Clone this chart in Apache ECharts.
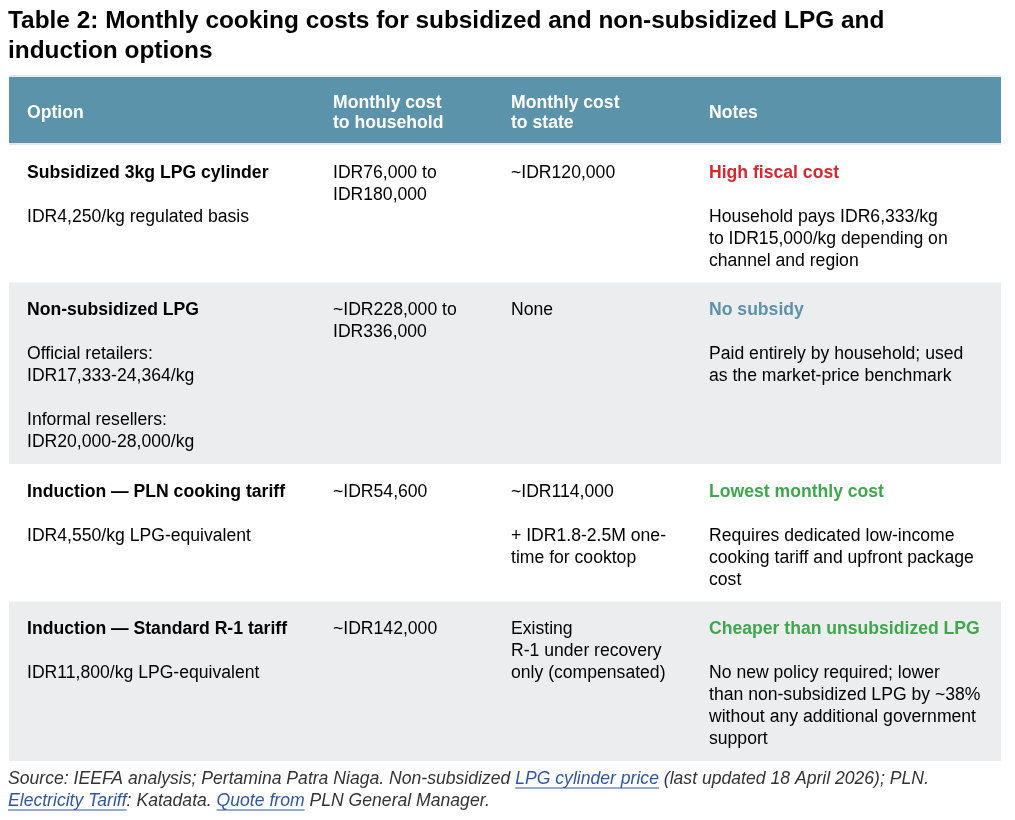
<!DOCTYPE html>
<html>
<head>
<meta charset="utf-8">
<script src="https://cdn.jsdelivr.net/npm/echarts@6/dist/echarts.min.js"></script>
<style>
html, body { margin: 0; padding: 0; background: #fff; }
#chart { width: 1015px; height: 820px; }
</style>
</head>
<body>
<div id="chart"></div>
<script>
// table content
var titleLines = ['Table 2: Monthly cooking costs for subsidized and non-subsidized LPG and', 'induction options'];
var headers = [['Option'], ['Monthly cost', 'to household'], ['Monthly cost', 'to state'], ['Notes']];
var optionNames = ['Subsidized 3kg LPG cylinder', 'Non-subsidized LPG', 'Induction \u2014 PLN cooking tariff', 'Induction \u2014 Standard R-1 tariff'];
var optionDetails = [
	[['IDR4,250/kg regulated basis']],
	[['Official retailers:', 'IDR17,333-24,364/kg'], ['Informal resellers:', 'IDR20,000-28,000/kg']],
	[['IDR4,550/kg LPG-equivalent']],
	[['IDR11,800/kg LPG-equivalent']]
];
var householdCosts = [['IDR76,000 to', 'IDR180,000'], ['~IDR228,000 to', 'IDR336,000'], ['~IDR54,600'], ['~IDR142,000']];
var stateCosts = [
	[['~IDR120,000']],
	[['None']],
	[['~IDR114,000'], ['+ IDR1.8-2.5M one-', 'time for cooktop']],
	[['Existing', 'R-1 under recovery', 'only (compensated)']]
];
var noteHeadlines = ['High fiscal cost', 'No subsidy', 'Lowest monthly cost', 'Cheaper than unsubsidized LPG'];
var noteTones = ['cost', 'neutral', 'saving', 'saving'];
var noteDetails = [
	['Household pays IDR6,333/kg', 'to IDR15,000/kg depending on', 'channel and region'],
	['Paid entirely by household; used', 'as the market-price benchmark'],
	['Requires dedicated low-income', 'cooking tariff and upfront package', 'cost'],
	['No new policy required; lower', 'than non-subsidized LPG by ~38%', 'without any additional government', 'support']
];
// [text, isLink]
var sourceLine1 = [['Source: IEEFA analysis; Pertamina Patra Niaga. Non-subsidized ', false], ['LPG cylinder price', true], [' (last updated 18 April 2026); PLN.', false]];
var sourceLine2 = [['Electricity Tariff', true], [': Katadata. ', false], ['Quote from', true], [' PLN General Manager.', false]];

/* 样式 */
var FONT = '"Liberation Sans", Arial, Helvetica, sans-serif';
var FS = '17.6px ';
var LINE = 22, PAD = 27.5, HEADER_H = 68, TABLE_W = 992;
var colX = [18, 324, 502, 700];
var toneColor = { cost: '#d7282f', neutral: '#5b93ab', saving: '#3ea74b' };
var styles = {
	bold: { fill: '#000', font: 'bold ' + FS + FONT },
	normal: { fill: '#000', font: FS + FONT },
	cost: { fill: toneColor.cost, font: 'bold ' + FS + FONT },
	neutral: { fill: toneColor.neutral, font: 'bold ' + FS + FONT },
	saving: { fill: toneColor.saving, font: 'bold ' + FS + FONT }
};

function paragraphs(list) {
	var out = [];
	for (var i = 0; i < list.length; i++) {
		if (i > 0) out.push(null);
		for (var j = 0; j < list[i].length; j++) out.push({ t: list[i][j], s: 'normal' });
	}
	return out;
}

function cellLines(r, c) {
	if (c == 0) {
		var a = [{ t: optionNames[r], s: 'bold' }];
		for (var i = 0; i < optionDetails[r].length; i++) {
			a.push(null);
			a = a.concat(paragraphs([optionDetails[r][i]]));
		}
		return a;
	}
	if (c == 1) return paragraphs([householdCosts[r]]);
	if (c == 2) return paragraphs(stateCosts[r]);
	return [{ t: noteHeadlines[r], s: noteTones[r] }, null].concat(paragraphs([noteDetails[r]]));
}

var rowHeights = [HEADER_H];
for (var r = 0; r < optionNames.length; r++) {
	var n = 0;
	for (var c = 0; c < 4; c++) n = Math.max(n, cellLines(r, c).length);
	rowHeights.push(n * LINE + PAD);
}
var rowTops = [];
var total = 0;
for (var i = 0; i < rowHeights.length; i++) {
	rowTops.push(total);
	total += rowHeights[i];
}
var rowData = rowTops.map(function (t, i) { return [0, t, i]; });

function renderRow(params, api) {
	var idx = api.value(2);
	var p0 = api.coord([0, rowTops[idx]]);
	var p1 = api.coord([TABLE_W, rowTops[idx] + rowHeights[idx]]);
	var w = p1[0] - p0[0];
	var children = [];
	if (idx == 0) {
		children.push({ type: 'rect', shape: { x: p0[0], y: p0[1] - 2, width: w, height: p1[1] - p0[1] + 2 }, style: { fill: '#e7e9eb' } });
		children.push({ type: 'rect', shape: { x: p0[0], y: p0[1], width: w, height: p1[1] - p0[1] - 2 }, style: { fill: '#5b93ab' } });
		for (var c = 0; c < headers.length; c++) {
			var x = api.coord([colX[c], 0])[0];
			var first = p0[1] + 36 - (headers[c].length - 1) * 10;
			for (var k = 0; k < headers[c].length; k++) {
				children.push({ type: 'text', style: { text: headers[c][k], x: x, y: first + k * 20, fill: '#fff', font: 'bold ' + FS + FONT, align: 'left', verticalAlign: 'middle' } });
			}
		}
	} else {
		var r = idx - 1;
		children.push({ type: 'rect', shape: { x: p0[0], y: p0[1], width: w, height: p1[1] - p0[1] }, style: { fill: r % 2 == 1 ? '#ecedef' : '#ffffff' } });
		for (var c = 0; c < 4; c++) {
			var x = api.coord([colX[c], 0])[0];
			var lines = cellLines(r, c);
			for (var k = 0; k < lines.length; k++) {
				if (!lines[k]) continue;
				var st = styles[lines[k].s];
				children.push({ type: 'text', style: { text: lines[k].t, x: x, y: p0[1] + 28 + k * LINE, fill: st.fill, font: st.font, align: 'left', verticalAlign: 'middle' } });
			}
		}
	}
	return { type: 'group', children: children };
}

// 来源说明
var measureCtx = document.createElement('canvas').getContext('2d');
var SRC_FONT = 'italic ' + FS + FONT;
measureCtx.font = SRC_FONT;
var graphics = [];
titleLines.forEach(function (t, i) {
	graphics.push({ type: 'text', x: 8, y: 21.5 + i * 30, style: { text: t, fill: '#000', font: 'bold 24.4px ' + FONT, align: 'left', verticalAlign: 'middle' } });
});
var tableBottom = 77 + total;
[sourceLine1, sourceLine2].forEach(function (line, li) {
	var x = 8;
	var y = tableBottom + 18.5 + li * 22;
	line.forEach(function (seg) {
		var sw = measureCtx.measureText(seg[0]).width;
		graphics.push({ type: 'text', x: x, y: y, style: { text: seg[0], fill: seg[1] ? '#2f56a3' : '#333', font: SRC_FONT, align: 'left', verticalAlign: 'middle' } });
		if (seg[1]) {
			graphics.push({ type: 'line', shape: { x1: x, y1: y + 8.5, x2: x + sw, y2: y + 8.5 }, style: { stroke: '#2f56a3', lineWidth: 1 } });
		}
		x += sw;
	});
});

var myChart = echarts.init(document.getElementById('chart'), null, { renderer: 'canvas' });
myChart.setOption({
	animation: false,
	backgroundColor: '#fff',
	grid: { left: 9, top: 77, width: TABLE_W, height: total },
	xAxis: { type: 'value', min: 0, max: TABLE_W, show: false },
	yAxis: { type: 'value', min: 0, max: total, inverse: true, show: false },
	graphic: graphics,
	series: [{
		type: 'custom',
		silent: true,
		clip: false,
		data: rowData,
		encode: { x: 0, y: 1 },
		renderItem: renderRow
	}]
});
</script>
</body>
</html>
